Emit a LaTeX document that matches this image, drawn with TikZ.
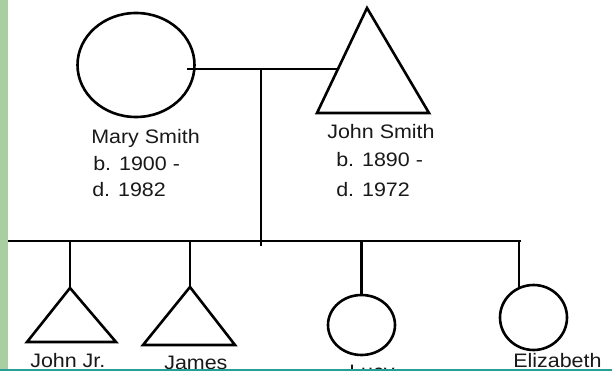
\documentclass[tikz,border=0pt]{standalone}
\usepackage{fontspec}
\setmainfont{Liberation Sans}[FakeStretch=1.1]
\usepackage{tikz}
\usetikzlibrary{calc, positioning, shapes.geometric}
\usepackage{xcolor}
\definecolor{stripG}{RGB}{168, 206, 162}
\definecolor{ruleT}{RGB}{38, 160, 150}

\begin{document}
\begin{tikzpicture}[x=1pt, y=-1pt, line width=2.6pt,
    female/.style={draw, ellipse, inner sep=0pt},
    tag/.style={anchor=base west, inner sep=0pt, text=black!90,
      font=\fontsize{19.5}{24}\selectfont}]
  \useasboundingbox (0,0) rectangle (612,374);
  % Margin strip and bottom rule
  \fill[stripG] (0,0) rectangle (8,369);
  \fill[ruleT] (0,368.5) rectangle (612,371);
  \begin{scope}
  \clip (8,0) rectangle (612,368.5);
  % Parents
  \node[female, minimum width=117pt, minimum height=104pt] (mary) at (136,65) {};
  \coordinate (jsApex) at (367,8);
  \draw (jsApex) -- (317,113) -- (429,113) -- cycle;
  \coordinate (maryIn) at (187,69);
  \coordinate (jsSide) at (338,69);
  \draw (maryIn) -- (jsSide);
  \node[tag] (maryName) at (90,143) {Mary Smith};
  \node[tag] (maryBorn) at (92,170) {b. 1900 -};
  \node[tag] (maryDied) at (91,196) {d. 1982};
  \node[tag] (jsName) at (326,139) {John Smith};
  \node[tag] (jsBorn) at (335,167) {b. 1890 -};
  \node[tag] (jsDied) at (335,196) {d. 1972};
  % Line of descent
  \coordinate (union) at (261,69);
  \coordinate (sibL) at (8,241);
  \coordinate (sibR) at (521,241);
  \draw (union) -- ([yshift=-5pt]union |- sibL);
  \draw (sibL) -- (sibR);
  % Children
  \coordinate (jjApex) at (70,288);
  \draw (jjApex) -- (116,342) -- (27,342) -- cycle;
  \coordinate (jaApex) at (190,287);
  \draw (jaApex) -- (235,345) -- (143,345) -- cycle;
  \node[female, minimum width=67pt, minimum height=60pt] (lucy) at (361.5,325) {};
  \node[female, minimum width=67pt, minimum height=65pt] (eliz) at (533.5,317.5) {};
  \draw (sibL -| jjApex) -- (jjApex);
  \draw (sibL -| jaApex) -- (jaApex);
  \draw (sibL -| lucy.north) -- (lucy.north);
  \draw (sibL -| eliz.115) -- (eliz.115);
  \node[tag] (jjName) at (29,367) {John Jr.};
  \node[tag] (jaName) at (163,369.5) {James};
  \node[tag] (lucyName) at (348,378) {Lucy};
  \node[tag] (elizName) at (512,367) {Elizabeth};
  \end{scope}
\end{tikzpicture}
\end{document}
